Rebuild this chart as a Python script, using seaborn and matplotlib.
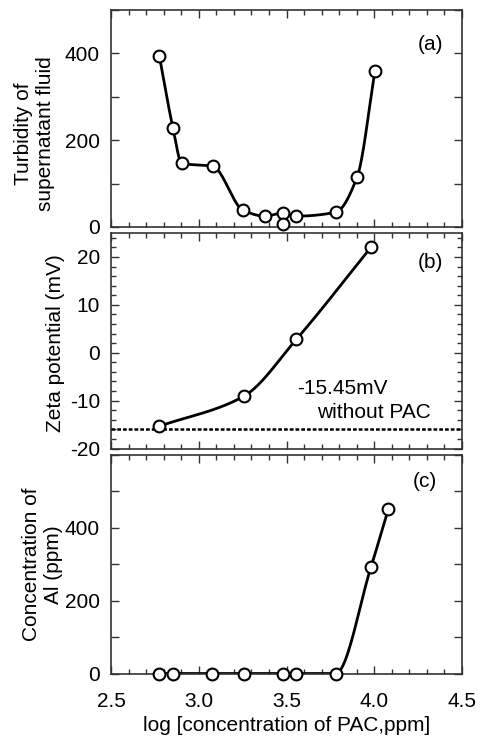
import numpy as np
import matplotlib
matplotlib.use("Agg")
import matplotlib.pyplot as plt
from matplotlib.ticker import MultipleLocator, FuncFormatter
import seaborn as sns

# values
turb_x = [2.775, 2.853, 2.903, 3.079, 3.254, 3.377, 3.478, 3.478, 3.554, 3.780, 3.903, 4.004]
turb_y = [395, 228, 147, 140, 38, 25, 32, 6, 25, 34, 116, 359]
turb_on_curve = [True, True, True, True, True, True, True, False, True, True, True, True]

zeta_x = [2.775, 3.256, 3.556, 3.983]
zeta_y = [-15.35, -9.1, 2.8, 22.1]
zeta_blank = -15.95
zeta_blank_text = "-15.45mV"

al_x = [2.775, 2.853, 3.074, 3.256, 3.478, 3.554, 3.780, 3.981, 4.080]
al_y = [0, 0, 0, 0, 0, 0, 0, 292, 451]

x_label = "log [concentration of PAC,ppm]"

sns.set_theme(style="ticks")
plt.rcParams['font.family'] = ['Liberation Sans', 'DejaVu Sans']
plt.rcParams['font.size'] = 15
plt.rcParams['axes.unicode_minus'] = False
plt.rcParams['text.color'] = 'black'
plt.rcParams['axes.labelcolor'] = 'black'
plt.rcParams['xtick.color'] = 'black'
plt.rcParams['ytick.color'] = 'black'

FS = 15


def pchip(x, y, n=300):
    # smooth monotone curve through the points (drawing only)
    x = np.asarray(x, float)
    y = np.asarray(y, float)
    h = np.diff(x)
    d = np.diff(y) / h
    m = np.zeros_like(y)
    for k in range(1, len(x) - 1):
        if d[k - 1] * d[k] > 0:
            w1 = 2 * h[k] + h[k - 1]
            w2 = h[k] + 2 * h[k - 1]
            m[k] = (w1 + w2) / (w1 / d[k - 1] + w2 / d[k])
    m[0] = d[0]
    m[-1] = d[-1]
    xs, ys = [], []
    for k in range(len(x) - 1):
        t = np.linspace(0, 1, n // (len(x) - 1) + 2)
        h00 = 2 * t**3 - 3 * t**2 + 1
        h10 = t**3 - 2 * t**2 + t
        h01 = -2 * t**3 + 3 * t**2
        h11 = t**3 - t**2
        xs.append(x[k] + t * h[k])
        ys.append(h00 * y[k] + h10 * h[k] * m[k] + h01 * y[k + 1] + h11 * h[k] * m[k + 1])
    return np.concatenate(xs), np.concatenate(ys)


fig = plt.figure(figsize=(4.85, 7.36), dpi=100)
left, width = 0.2289, 0.7237
ax_a = fig.add_axes([left, 0.6916, width, 0.2948])
ax_b = fig.add_axes([left, 0.3906, width, 0.2928])
ax_c = fig.add_axes([left, 0.0849, width, 0.2969])

line_kw = dict(color='black', linewidth=2.0, sort=False, legend=False)
mark_kw = dict(marker='o', s=72, color='white', edgecolor='black', linewidth=1.5, zorder=5, legend=False)

# (a) turbidity
cx = [a for a, keep in zip(turb_x, turb_on_curve) if keep]
cy = [b for b, keep in zip(turb_y, turb_on_curve) if keep]
sx, sy = pchip(cx, cy)
sns.lineplot(x=sx, y=sy, ax=ax_a, **line_kw)
sns.scatterplot(x=turb_x, y=turb_y, ax=ax_a, clip_on=False, **mark_kw)
ax_a.set_ylim(0, 500)
ax_a.yaxis.set_major_locator(MultipleLocator(100))
ax_a.yaxis.set_major_formatter(FuncFormatter(lambda v, p: f"{v:.0f}" if v % 200 == 0 else ""))
ax_a.set_ylabel("Turbidity of\nsupernatant fluid", fontsize=FS)
ax_a.yaxis.set_label_coords(-0.16, 0.43)
ax_a.text(4.32, 421, "(a)", ha='center', va='center', fontsize=FS)

# (b) zeta potential
sx, sy = pchip(zeta_x, zeta_y)
sns.lineplot(x=sx, y=sy, ax=ax_b, **line_kw)
ax_b.axhline(zeta_blank, color='black', linewidth=1.8, linestyle=(0, (1.5, 0.8)), zorder=3)
sns.scatterplot(x=zeta_x, y=zeta_y, ax=ax_b, **mark_kw)
ax_b.set_ylim(-20, 25)
ax_b.yaxis.set_major_locator(MultipleLocator(10))
ax_b.yaxis.set_minor_locator(MultipleLocator(2))
ax_b.set_ylabel("Zeta potential (mV)", fontsize=FS)
ax_b.yaxis.set_label_coords(-0.131, 0.49)
ax_b.text(3.82, -7.5, zeta_blank_text, ha='center', va='center', fontsize=FS)
ax_b.text(4.0, -12.4, "without PAC", ha='center', va='center', fontsize=FS)
ax_b.text(4.32, 18.8, "(b)", ha='center', va='center', fontsize=FS)

# (c) aluminium
sx, sy = pchip(al_x, al_y)
sns.lineplot(x=sx, y=sy, ax=ax_c, **line_kw)
sns.scatterplot(x=al_x, y=al_y, ax=ax_c, clip_on=False, **mark_kw)
ax_c.set_ylim(0, 600)
ax_c.yaxis.set_major_locator(MultipleLocator(100))
ax_c.yaxis.set_major_formatter(FuncFormatter(lambda v, p: f"{v:.0f}" if v % 200 == 0 and v < 600 else ""))
ax_c.set_ylabel("Concentration of\nAl (ppm)", fontsize=FS)
ax_c.yaxis.set_label_coords(-0.137, 0.5)
ax_c.set_xlabel(x_label, fontsize=FS, labelpad=4)
ax_c.text(4.29, 528, "(c)", ha='center', va='center', fontsize=FS)

for ax in (ax_a, ax_b, ax_c):
    ax.set_xlim(2.5, 4.5)
    ax.xaxis.set_major_locator(MultipleLocator(0.5))
    ax.xaxis.set_minor_locator(MultipleLocator(0.1))
    ax.xaxis.set_major_formatter(FuncFormatter(lambda v, p: f"{v:.1f}"))
    ax.tick_params(which='both', direction='in', top=True, right=True, width=1.0,
                   color='#333333', labelcolor='black', labelsize=FS)
    ax.tick_params(axis='y', which='both', pad=8)
    ax.tick_params(axis='x', which='both', pad=13)
    ax.tick_params(which='major', length=6)
    ax.tick_params(which='minor', length=3.5)
    for sp in ax.spines.values():
        sp.set_color('#333333')
        sp.set_linewidth(1.2)
    if ax is not ax_c:
        ax.tick_params(labelbottom=False)
        ax.set_xlabel("")

fig.savefig("out.png", dpi=100)
